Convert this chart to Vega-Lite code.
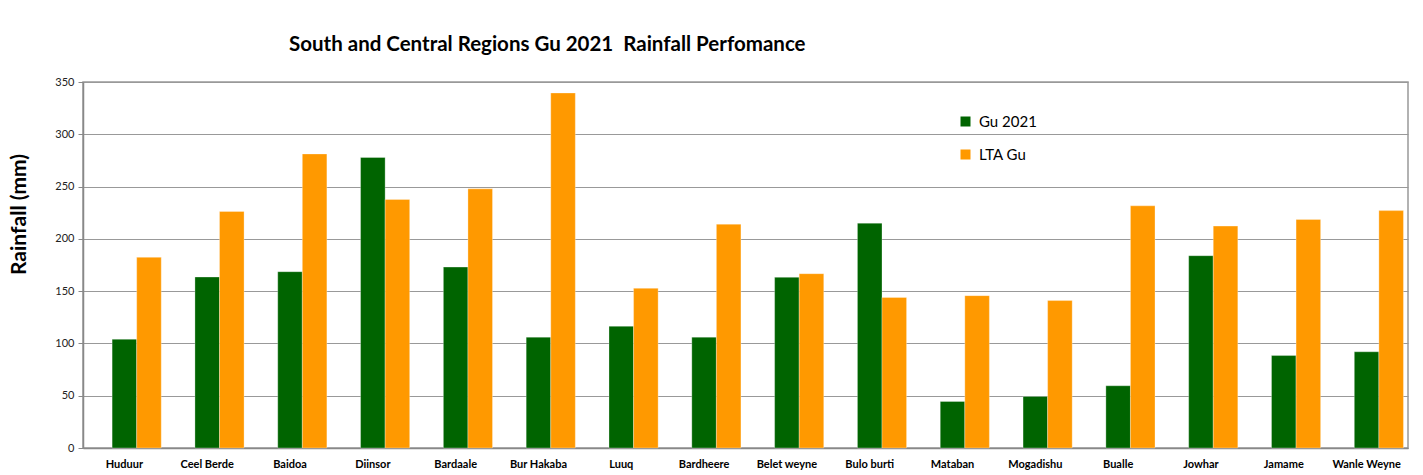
{
  "$schema": "https://vega.github.io/schema/vega-lite/v6.json",
  "width": 1325,
  "height": 366,
  "autosize": {"type": "none"},
  "padding": {"left": 83, "top": 82, "right": 15, "bottom": 27},
  "background": "white",
  "title": {
    "text": "South and Central Regions Gu 2021\u00a0 Rainfall Perfomance",
    "font": "Lato",
    "fontSize": 20.5,
    "fontWeight": "bold",
    "color": "black",
    "anchor": "start",
    "frame": "group",
    "dx": 206,
    "offset": 21
  },
  "data": {
    "values": [
      {"station": "Huduur", "series": "Gu 2021", "rain": 104},
      {"station": "Huduur", "series": "LTA Gu", "rain": 182.3},
      {"station": "Ceel Berde", "series": "Gu 2021", "rain": 163.5},
      {"station": "Ceel Berde", "series": "LTA Gu", "rain": 226.2},
      {"station": "Baidoa", "series": "Gu 2021", "rain": 168.6},
      {"station": "Baidoa", "series": "LTA Gu", "rain": 281.2},
      {"station": "Diinsor", "series": "Gu 2021", "rain": 277.8},
      {"station": "Diinsor", "series": "LTA Gu", "rain": 237.7},
      {"station": "Bardaale", "series": "Gu 2021", "rain": 173},
      {"station": "Bardaale", "series": "LTA Gu", "rain": 247.8},
      {"station": "Bur Hakaba", "series": "Gu 2021", "rain": 106},
      {"station": "Bur Hakaba", "series": "LTA Gu", "rain": 339.5},
      {"station": "Luuq", "series": "Gu 2021", "rain": 116.4},
      {"station": "Luuq", "series": "LTA Gu", "rain": 152.7},
      {"station": "Bardheere", "series": "Gu 2021", "rain": 106},
      {"station": "Bardheere", "series": "LTA Gu", "rain": 214},
      {"station": "Belet weyne", "series": "Gu 2021", "rain": 163.2},
      {"station": "Belet weyne", "series": "LTA Gu", "rain": 166.7},
      {"station": "Bulo burti", "series": "Gu 2021", "rain": 215},
      {"station": "Bulo burti", "series": "LTA Gu", "rain": 144},
      {"station": "Mataban", "series": "Gu 2021", "rain": 44.5},
      {"station": "Mataban", "series": "LTA Gu", "rain": 145.7},
      {"station": "Mogadishu", "series": "Gu 2021", "rain": 49.3},
      {"station": "Mogadishu", "series": "LTA Gu", "rain": 141},
      {"station": "Bualle", "series": "Gu 2021", "rain": 59.5},
      {"station": "Bualle", "series": "LTA Gu", "rain": 231.6},
      {"station": "Jowhar", "series": "Gu 2021", "rain": 183.9},
      {"station": "Jowhar", "series": "LTA Gu", "rain": 212.2},
      {"station": "Jamame", "series": "Gu 2021", "rain": 88.4},
      {"station": "Jamame", "series": "LTA Gu", "rain": 218.6},
      {"station": "Wanle Weyne", "series": "Gu 2021", "rain": 92},
      {"station": "Wanle Weyne", "series": "LTA Gu", "rain": 227}
    ]
  },
  "mark": {"type": "bar", "stroke": "white", "strokeWidth": 0.5, "strokeOpacity": 0.6},
  "encoding": {
    "x": {
      "field": "station",
      "type": "nominal",
      "sort": null,
      "scale": {"paddingInner": 0.11, "paddingOuter": 0.055},
      "axis": {
        "title": null,
        "labelAngle": 0,
        "labelFont": "Lato",
        "labelFontSize": 11,
        "labelFontWeight": "bold",
        "labelColor": "black",
        "labelPadding": 10,
        "ticks": false,
        "domainColor": "#888888",
        "domainWidth": 1.5
      }
    },
    "xOffset": {
      "field": "series",
      "type": "nominal",
      "scale": {"domain": ["blank", "Gu 2021", "LTA Gu"], "paddingInner": 0, "paddingOuter": 0}
    },
    "y": {
      "field": "rain",
      "type": "quantitative",
      "scale": {"domain": [0, 350], "nice": false},
      "axis": {
        "title": "Rainfall (mm)",
        "titleFont": "Lato",
        "titleFontSize": 21,
        "titleFontWeight": "bold",
        "titleColor": "black",
        "titleAngle": -90,
        "titleX": -64,
        "titleY": 132,
        "titleAlign": "center",
        "titleBaseline": "middle",
        "values": [0, 50, 100, 150, 200, 250, 300, 350],
        "labelFont": "Lato",
        "labelFontSize": 11,
        "labelColor": "#222222",
        "labelPadding": 4,
        "tickSize": 5,
        "tickColor": "#888888",
        "domainColor": "#888888",
        "domainWidth": 1.5,
        "grid": true,
        "gridColor": "#999999",
        "gridWidth": 1.2
      }
    },
    "color": {
      "field": "series",
      "type": "nominal",
      "scale": {"domain": ["Gu 2021", "LTA Gu"], "range": ["#006400", "#FF9900"]},
      "legend": {
        "title": null,
        "orient": "none",
        "legendX": 875,
        "legendY": 32,
        "symbolType": "square",
        "symbolSize": 100,
        "symbolStrokeWidth": 0,
        "labelFont": "Lato",
        "labelFontSize": 15,
        "labelColor": "black",
        "labelOffset": 6,
        "rowPadding": 17
      }
    }
  },
  "config": {
    "view": {"stroke": "#999999", "strokeWidth": 1.5}
  }
}
